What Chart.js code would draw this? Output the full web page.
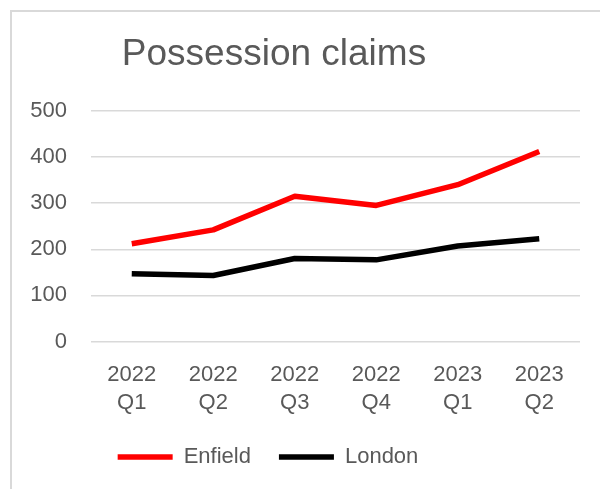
<!DOCTYPE html>
<html>
<head>
<meta charset="utf-8">
<title>Possession claims</title>
<script src="https://cdn.jsdelivr.net/npm/chart.js@4.4.0/dist/chart.umd.min.js"></script>
<style>
  html, body { margin: 0; padding: 0; overflow: hidden; background: #fff; }
  #wrap { position: relative; width: 600px; height: 489px; }
  #frame { position: absolute; left: 10px; top: 10px; width: 640px; height: 540px;
           border: 2px solid #d9d9d9; box-sizing: border-box; pointer-events: none; }
  #claimsChart { position: absolute; left: 0; top: 0; }
</style>
</head>
<body>
<div id="wrap">
  <div id="frame"></div>
  <canvas id="claimsChart" width="600" height="489"></canvas>
</div>
<script>
'use strict';

// quarterly possession claims
const quarters = [['2022', 'Q1'], ['2022', 'Q2'], ['2022', 'Q3'], ['2022', 'Q4'], ['2023', 'Q1'], ['2023', 'Q2']];
const enfield = [212, 242, 315, 295, 340, 412];
const london = [147, 143, 180, 177, 207, 223];
const yTicks = [0, 100, 200, 300, 400, 500];

const textGrey = '#595959';
const gridGrey = '#d9d9d9';
const fontFamily = '"Liberation Sans", Arial, sans-serif';

// title and legend sit a little left of the canvas centre
const shiftBoxes = {
    id: 'shiftBoxes',
    afterLayout: function(chart) {
        chart.titleBlock.left -= 16;
        chart.titleBlock.right -= 16;
        chart.legend.left -= 22;
        chart.legend.right -= 22;
    }
};

const ctx = document.getElementById('claimsChart');
const claimsChart = new Chart(ctx, {
    type: 'line',
    data: {
        labels: quarters,
        datasets: [{
            label: 'Enfield',
            data: enfield,
            borderColor: '#ff0000',
            backgroundColor: '#ff0000',
            borderWidth: 5.5,
            borderJoinStyle: 'round',
            pointRadius: 0,
            tension: 0
        }, {
            label: 'London',
            data: london,
            borderColor: '#000000',
            backgroundColor: '#000000',
            borderWidth: 5.5,
            borderJoinStyle: 'round',
            pointRadius: 0,
            tension: 0
        }]
    },
    options: {
        responsive: false,
        animation: false,
        layout: { padding: { top: 0, right: 20, bottom: 11, left: 0 } },
        plugins: {
            title: {
                display: true,
                text: 'Possession claims',
                color: textGrey,
                font: { family: fontFamily, size: 37, weight: 'normal' },
                padding: { top: 32.5, bottom: 34 }
            },
            legend: {
                position: 'bottom',
                labels: {
                    usePointStyle: true,
                    pointStyle: 'line',
                    pointStyleWidth: 55,
                    color: textGrey,
                    font: { family: fontFamily, size: 22 },
                    padding: 28
                }
            },
            tooltip: { enabled: false }
        },
        scales: {
            x: {
                offset: true,
                grid: { display: false, drawTicks: false },
                border: { display: false },
                afterFit: function(scale) { scale.height -= 18.5; },
                ticks: {
                    color: textGrey,
                    font: { family: fontFamily, size: 22, lineHeight: 1.25 },
                    padding: 20,
                    maxRotation: 0,
                    autoSkip: false
                }
            },
            y: {
                min: yTicks[0],
                max: yTicks[yTicks.length - 1],
                afterFit: function(scale) { scale.width = 91; },
                afterBuildTicks: function(scale) {
                    scale.ticks = yTicks.map(function(v) { return { value: v }; });
                },
                grid: { color: gridGrey, lineWidth: 1.5, drawTicks: false },
                border: { display: false },
                ticks: {
                    color: textGrey,
                    font: { family: fontFamily, size: 22 },
                    padding: 24
                }
            }
        }
    },
    plugins: [shiftBoxes]
});
</script>
</body>
</html>
